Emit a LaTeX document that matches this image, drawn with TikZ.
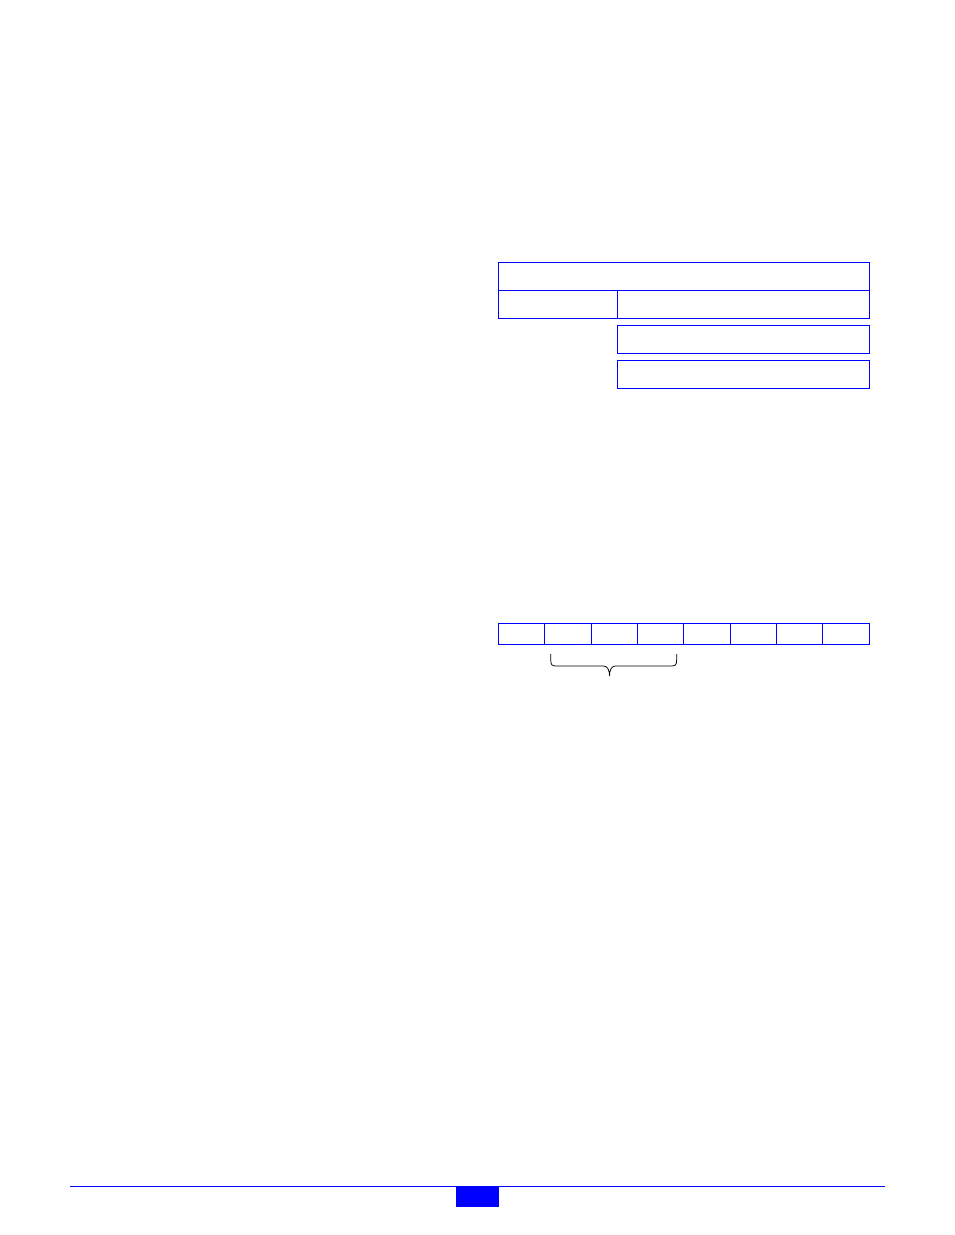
\documentclass[tikz,border=0pt]{standalone}
\usetikzlibrary{positioning}

\tikzset{
  field/.style={draw=blue, line width=1pt, inner sep=0pt, outer sep=0pt,
    minimum height=28pt, anchor=north west},
  cell/.style={field, minimum width=46.375pt, minimum height=21pt},
  bracepen/.style={line width=0.75pt, black},
}

\begin{document}
\begin{tikzpicture}[x=1pt,y=-1pt]

    % --- Page frame ---
    \useasboundingbox (0,0) rectangle (954,1235);

    % --- Record layout ---
    % Header spanning the whole width
    \node[field, minimum width=371pt] (hdr) at (498.3,262.3) {};
    % Second row: short key field and long value field
    \node[field, minimum width=118.7pt, below=0pt of hdr.south west, anchor=north west] (key) {};
    \node[field, minimum width=252.3pt, right=0pt of key.north east, anchor=north west] (val) {};
    % Extra value rows under the value field
    \node[field, minimum width=252.3pt] (rowa) at (617,325.3) {};
    \node[field, minimum width=252.3pt] (rowb) at (617,360.3) {};

    % --- Byte strip ---
    % Eight equal cells
    \foreach \i in {0,...,7}
        \node[cell] (b\i) at ({498.3+46.375*\i},623.3) {};

    % Brace under cells 1 to 3
    \coordinate (bl) at (550.7,654);
    \coordinate (br) at (676.7,654);
    \coordinate (tip) at (609.5,676);
    \draw[bracepen] (bl) -- (550.7,659)
        .. controls (550.7,665.5) and (552,666) .. (557,666)
        -- (603.5,666)
        .. controls (607.5,666) and (609.5,670) .. (tip)
        .. controls (609.5,670) and (611.5,666) .. (615.5,666)
        -- (670.4,666)
        .. controls (675.4,666) and (676.7,665.5) .. (676.7,659)
        -- (br);

    % --- Footer ---
    \coordinate (fl) at (70,1186);
    \coordinate (fr) at (885,1186);
    \draw[blue, line width=1pt] (fl) -- (fr);
    % Page tab
    \node[fill=blue, inner sep=0pt, minimum width=42.3pt, minimum height=20.7pt,
        anchor=north west] (tab) at (456,1186) {};

\end{tikzpicture}
\end{document}
